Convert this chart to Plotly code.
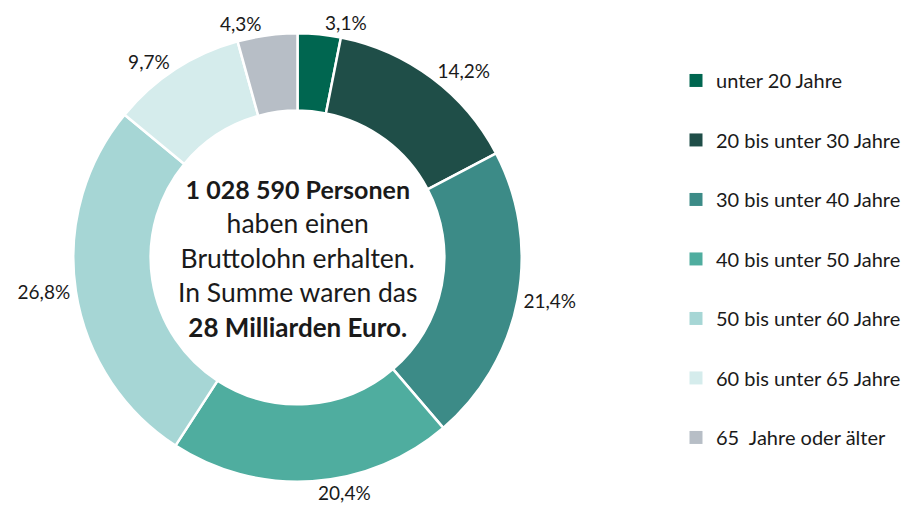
import plotly.graph_objects as go

labels = ["unter 20 Jahre", "20 bis unter 30 Jahre", "30 bis unter 40 Jahre",
          "40 bis unter 50 Jahre", "50 bis unter 60 Jahre", "60 bis unter 65 Jahre",
          "65  Jahre oder älter"]
values = [3.1, 14.2, 21.4, 20.4, 26.8, 9.7, 4.3]
text_labels = ["3,1%", "14,2%", "21,4%", "20,4%", "26,8%", "9,7%", "4,3%"]
colors = ["#006650", "#1f4e48", "#3c8b87", "#4fad9f", "#a6d6d5", "#d5ecec", "#b7bec6"]

FONT = "Source Sans Pro, Lato, Noto Sans, sans-serif"

W, H = 908, 509
cx, cy, r = 297.5, 259.5, 226

fig = go.Figure(go.Pie(
    labels=labels,
    values=values,
    text=text_labels,
    textinfo="text",
    textposition="outside",
    sort=False,
    direction="clockwise",
    rotation=0,
    hole=0.655,
    marker=dict(colors=colors, line=dict(color="white", width=2.5)),
    outsidetextfont=dict(size=19, color="#1a1a1a", family=FONT),
    domain=dict(x=[(cx - r) / W, (cx + r) / W], y=[(H - cy - r) / H, (H - cy + r) / H]),
    hoverinfo="label+percent",
    showlegend=False,
))

# legend entries (one per category, same colours as the slices)
for i, (lab, col) in enumerate(zip(labels, colors)):
    fig.add_trace(go.Scatter(
        x=[None], y=[None], mode="markers", name=lab,
        marker=dict(symbol="square", size=13, color=col),
        legendgroup=f"g{i}", showlegend=True, hoverinfo="skip",
    ))

fig.add_annotation(
    x=cx / W, y=(H - cy - 1) / H, xref="paper", yref="paper",
    xanchor="center", yanchor="middle",
    text=("<span style='font-size:25px'><b>1\u202f028\u202f590 Personen</b></span><br>"
          "haben einen<br>Bruttolohn erhalten.<br>In Summe waren das<br>"
          "<span style='font-size:26px'><b>28 Milliarden Euro.</b></span>"),
    showarrow=False, align="center",
    font=dict(size=26.5, color="#1a1a1a", family=FONT),
)

fig.update_layout(
    width=W, height=H,
    margin=dict(l=0, r=0, t=0, b=0),
    paper_bgcolor="white", plot_bgcolor="white",
    font=dict(family=FONT, color="#1a1a1a"),
    xaxis=dict(visible=False), yaxis=dict(visible=False),
    showlegend=True,
    legend=dict(x=676 / W, y=(H - 261) / H, xanchor="left", yanchor="middle",
                font=dict(size=20, color="#1a1a1a", family=FONT),
                tracegroupgap=30.5, valign="middle",
                itemclick=False, itemdoubleclick=False),
)

fig.write_html("out.html", config={"displayModeBar": False},
               post_script="document.body.style.margin='0';document.body.style.padding='0';")
